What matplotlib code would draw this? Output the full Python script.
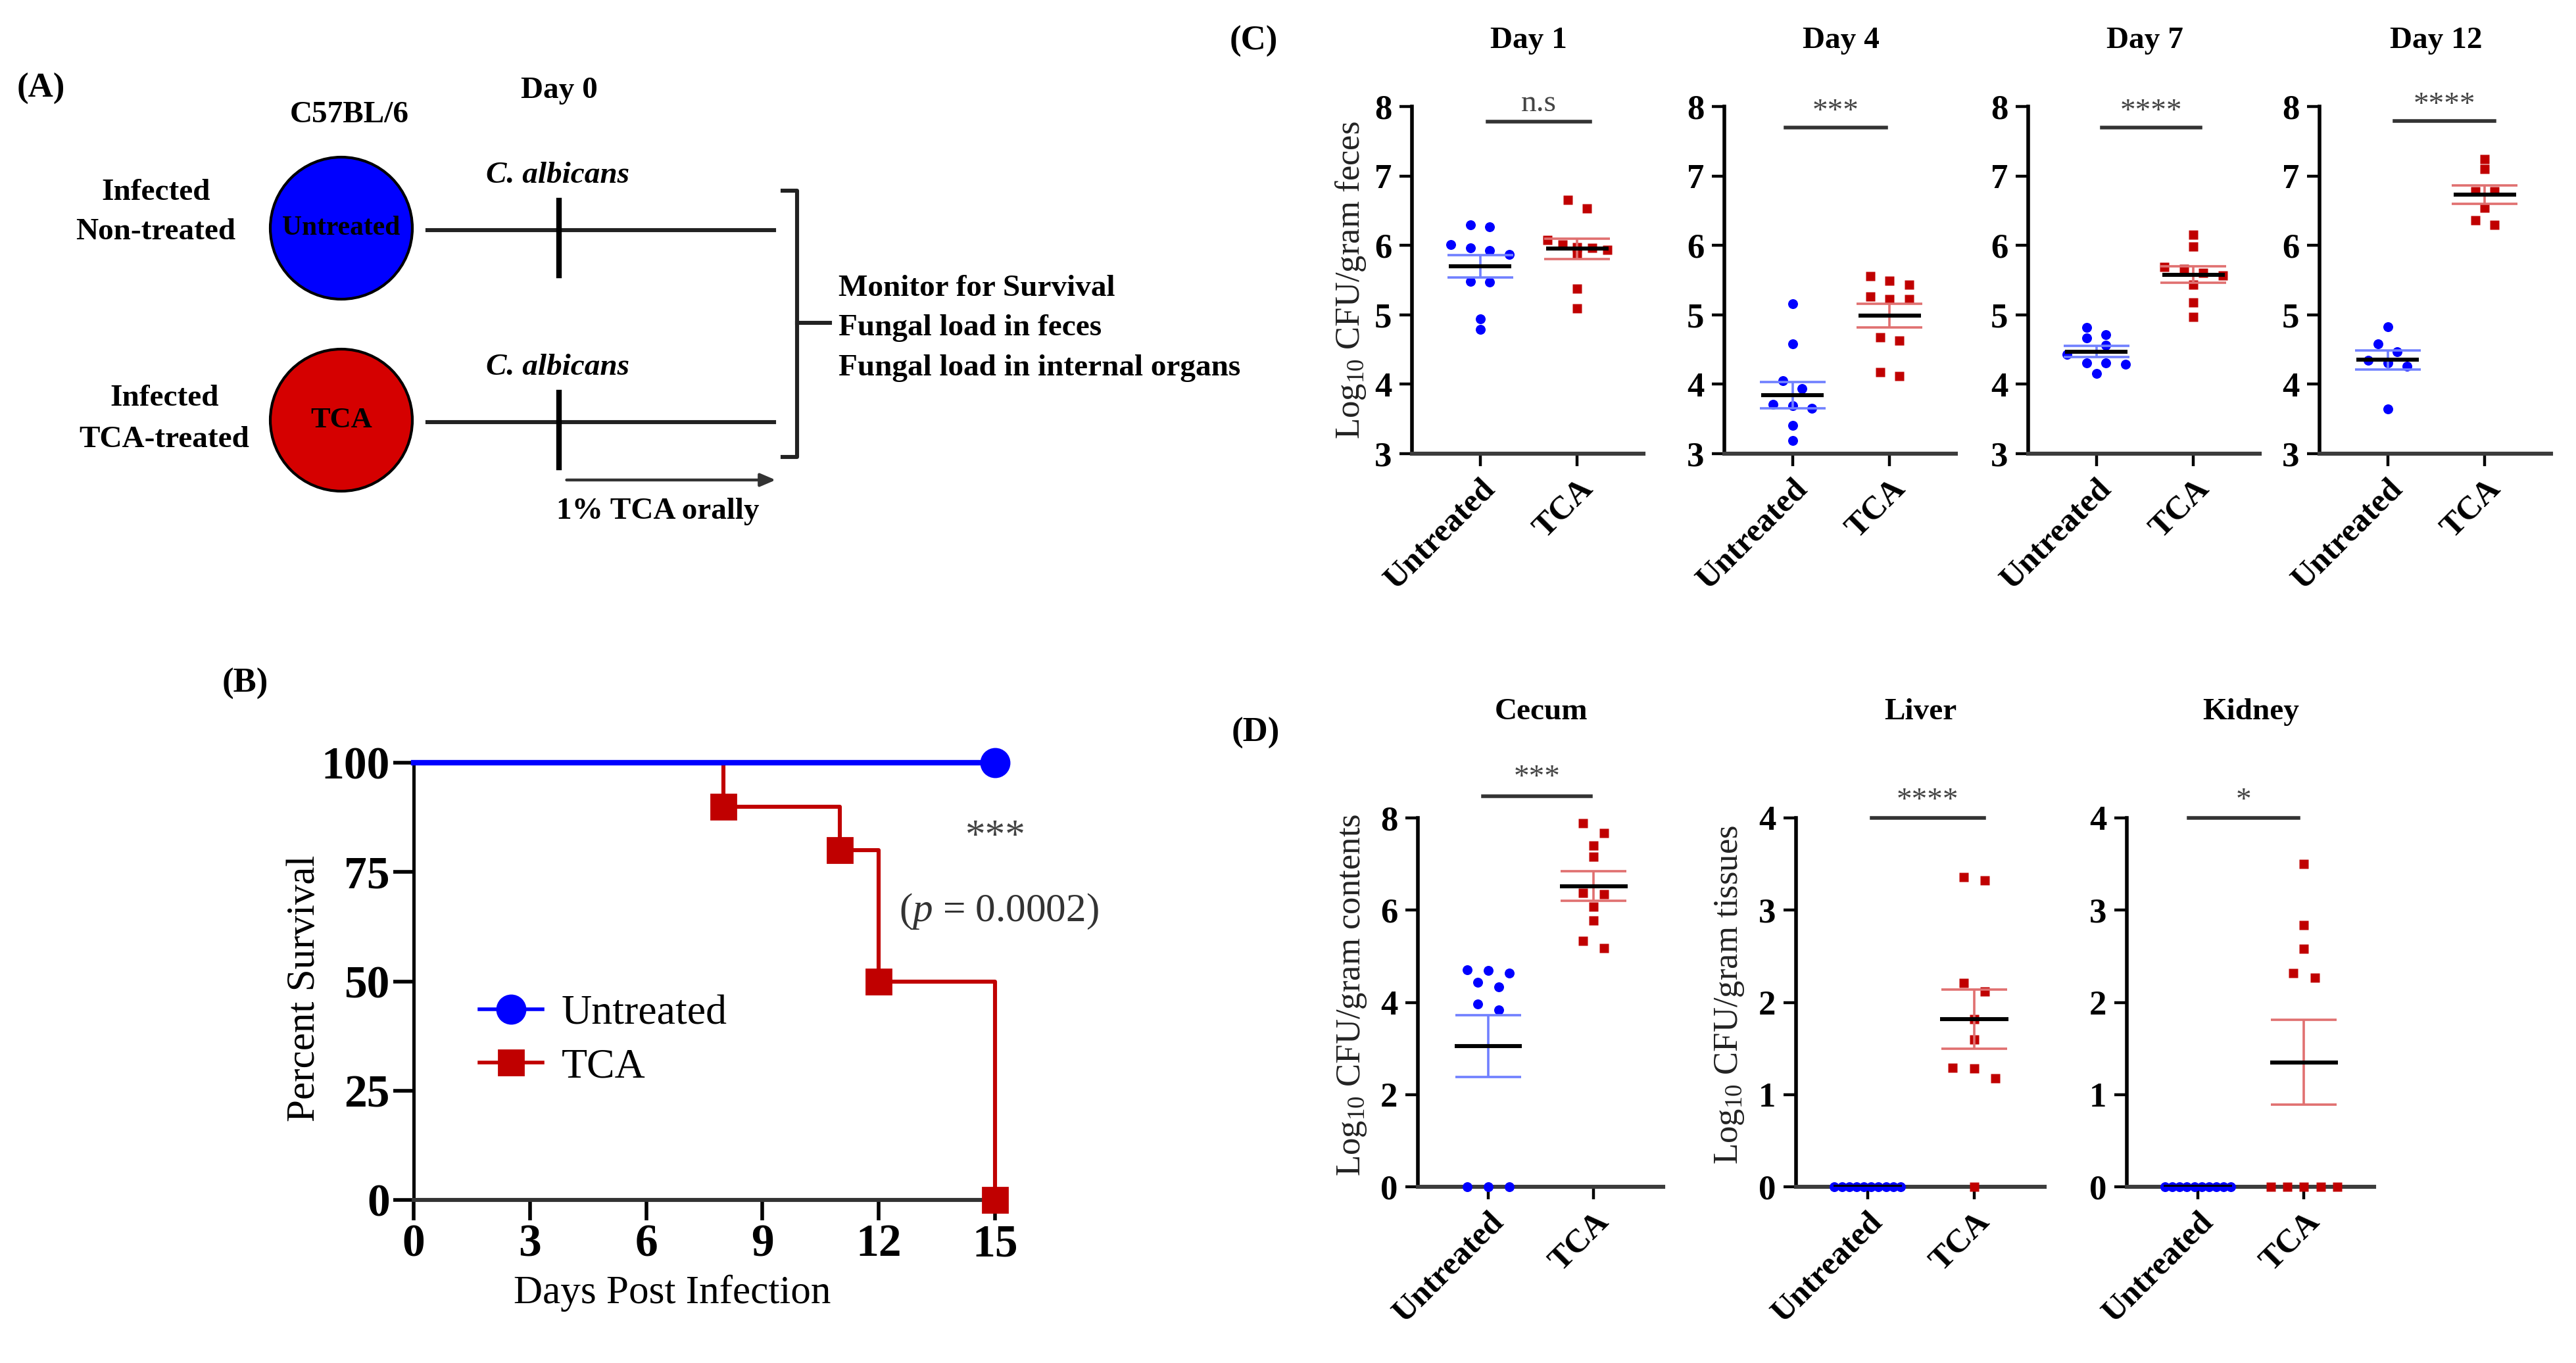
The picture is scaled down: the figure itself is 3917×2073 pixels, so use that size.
import numpy as np
import matplotlib
matplotlib.use('Agg')
import matplotlib.pyplot as plt
from matplotlib.patches import Circle
from matplotlib.lines import Line2D

plt.rcParams['font.family'] = ['Liberation Serif', 'DejaVu Serif']
plt.rcParams['mathtext.fontset'] = 'custom'
plt.rcParams['mathtext.rm'] = 'Liberation Serif'
plt.rcParams['mathtext.it'] = 'Liberation Serif:italic'
plt.rcParams['mathtext.bf'] = 'Liberation Serif:bold'

# ---- data ----
# (B) survival
days_untreated = [0, 15]
surv_untreated = [100, 100]
days_tca = [0, 8, 11, 12, 15]
surv_tca = [100, 90, 80, 50, 0]

groups = ['Untreated', 'TCA']

# (C) fungal load in feces
feces_days = ['Day 1', 'Day 4', 'Day 7', 'Day 12']
feces_untreated = [
    [6.27, 6.30, 5.87, 6.01, 5.93, 5.96, 5.48, 5.47, 4.94, 4.79],
    [5.16, 4.58, 4.05, 3.94, 3.69, 3.71, 3.65, 3.41, 3.19],
    [4.82, 4.67, 4.71, 4.56, 4.43, 4.31, 4.29, 4.31, 4.16],
    [4.83, 4.58, 4.47, 4.34, 4.31, 4.26, 3.64],
]
feces_tca = [
    [6.66, 6.53, 5.96, 6.01, 6.08, 5.97, 5.94, 5.87, 5.38, 5.09],
    [5.49, 5.43, 5.56, 5.23, 5.26, 5.23, 4.63, 4.68, 4.12, 4.17],
    [6.15, 5.98, 5.69, 5.66, 5.60, 5.57, 5.43, 5.18, 4.97],
    [7.24, 7.10, 6.78, 6.78, 6.54, 6.30, 6.36],
]
feces_mean_untreated = [5.70, 3.84, 4.47, 4.35]
feces_sem_untreated = [0.16, 0.19, 0.08, 0.14]
feces_mean_tca = [5.95, 4.99, 5.58, 6.73]
feces_sem_tca = [0.15, 0.17, 0.12, 0.13]
feces_sig = ['n.s', '***', '****', '****']

# (D) fungal load in organs
organs = ['Cecum', 'Liver', 'Kidney']
organ_ylabels = ['Log$_{10}$ CFU/gram contents', 'Log$_{10}$ CFU/gram tissues', None]
organ_untreated = [
    [4.71, 4.64, 4.69, 4.43, 4.33, 3.96, 3.84, 0, 0, 0],
    [0, 0, 0, 0, 0, 0, 0, 0, 0, 0],
    [0, 0, 0, 0, 0, 0, 0, 0, 0, 0],
]
organ_tca = [
    [7.88, 7.67, 7.40, 7.16, 6.38, 6.35, 6.07, 5.77, 5.34, 5.18],
    [3.32, 3.36, 2.21, 2.12, 1.82, 1.60, 1.29, 1.28, 1.18, 0],
    [3.50, 2.84, 2.58, 2.27, 2.32, 0, 0, 0, 0, 0],
]
organ_mean_untreated = [3.05, 0, 0]
organ_sem_untreated = [0.67, 0, 0]
organ_mean_tca = [6.52, 1.82, 1.35]
organ_sem_tca = [0.32, 0.32, 0.46]
organ_sig = ['***', '****', '*']

BLUE = '#0000ff'
RED = '#c00000'
LBLUE = '#7080ff'
LRED = '#e07070'

W, H = 3917, 2073
fig = plt.figure(figsize=(W / 200, H / 200), dpi=200)


def px_axes(x0, y0, x1, y1):
    return fig.add_axes([x0 / W, 1 - y1 / H, (x1 - x0) / W, (y1 - y0) / H])


def swarm(vals, thr, step=0.2, max_w=0.62):
    vals = np.asarray(vals, dtype=float)
    order = np.argsort(-vals, kind='stable')
    offs = np.zeros(len(vals))
    grp = []

    def place(g):
        n = len(g)
        s = step if n < 2 else min(step, max_w / (n - 1))
        for i, idx in enumerate(g):
            offs[idx] = (i - (n - 1) / 2) * s

    for idx in order:
        if grp and vals[grp[0]] - vals[idx] > thr:
            place(grp)
            grp = []
        grp.append(idx)
    place(grp)
    return offs


# ---- overlay for the scheme and panel letters (pixel coords) ----
ax0 = fig.add_axes([0, 0, 1, 1])
ax0.set_xlim(0, W)
ax0.set_ylim(H, 0)
ax0.axis('off')

for lab, (x, y) in zip(['(A)', '(B)', '(C)', '(D)'],
                       [(62, 135), (373, 1040), (1906, 63), (1909, 1115)]):
    ax0.text(x, y, lab, fontsize=19, fontweight='bold', ha='center', va='center')

bold = dict(fontsize=17, fontweight='bold', ha='center', va='center')
ax0.text(850, 138, 'Day 0', **bold)
ax0.text(531, 175, 'C57BL/6', **bold)
ax0.text(237, 293, 'Infected', **bold)
ax0.text(237, 353, 'Non-treated', **bold)
ax0.text(250, 606, 'Infected', **bold)
ax0.text(250, 669, 'TCA-treated', **bold)

for cy, col, lab in [(347, '#0000ff', 'Untreated'), (639, '#d50000', 'TCA')]:
    ax0.add_patch(Circle((519, cy), 108, facecolor=col, edgecolor='black', lw=1.5))
    ax0.text(519, cy, lab, fontsize=15 if lab == 'Untreated' else 16,
             fontweight='bold', ha='center', va='center')
    ax0.plot([650, 1177], [cy + 3, cy + 3], color='#222', lw=2.2)
    ax0.plot([850, 850], [cy - 42, cy + 72], color='black', lw=3)
    ax0.text(848, cy - 80, 'C. albicans', fontsize=17, fontweight='bold',
             fontstyle='italic', ha='center', va='center')

ax0.plot([1190, 1212, 1212, 1190], [290, 290, 695, 695], color='#222', lw=2.2)
ax0.plot([1212, 1262], [491, 491], color='#222', lw=2.2)
for y, t in [(439, 'Monitor for Survival'), (499, 'Fungal load in feces'),
             (560, 'Fungal load in internal organs')]:
    ax0.text(1275, y, t, fontsize=17, fontweight='bold', ha='left', va='center')
ax0.annotate('', xy=(1185, 730), xytext=(856, 730),
             arrowprops=dict(arrowstyle='-|>,head_length=0.7,head_width=0.3',
                             color='#333', lw=1.6))
ax0.text(1000, 778, '1% TCA orally', **bold)

# ---- (B) survival ----
axb = px_axes(629, 1160, 1513, 1825)
axb.patch.set_alpha(0)
axb.step(days_tca, surv_tca, where='post', color=RED, lw=2.2, zorder=3, clip_on=False)
axb.plot(days_tca[1:], surv_tca[1:], 's', color=RED, ms=14, zorder=4, clip_on=False)
axb.plot(days_untreated, surv_untreated, color=BLUE, lw=3, zorder=5, clip_on=False)
axb.plot(days_untreated[-1:], surv_untreated[-1:], 'o', color=BLUE, ms=15.5,
         zorder=6, clip_on=False)
axb.set_xlim(0, 15)
axb.set_ylim(0, 100)
axb.set_xticks([0, 3, 6, 9, 12, 15], labels=['0', '3', '6', '9', '12', '15'],
              fontsize=25, fontweight='bold')
axb.set_yticks([0, 25, 50, 75, 100], labels=['0', '25', '50', '75', '100'],
              fontsize=25, fontweight='bold')
axb.tick_params(axis='both', length=11, width=2, pad=2)
for s in ['top', 'right']:
    axb.spines[s].set_visible(False)
axb.spines['left'].set_linewidth(1.8)
axb.spines['bottom'].set_linewidth(2.2)
axb.spines['bottom'].set_color('#333333')
axb.text(-0.188, 0.484, 'Percent Survival', transform=axb.transAxes, rotation=90,
         fontsize=22, ha='center', va='center')
axb.text(0.445, -0.214, 'Days Post Infection', transform=axb.transAxes,
         fontsize=22, ha='center', va='center')
axb.text(15.0, 83, '***', fontsize=22, color='#444444', ha='center', va='center')
axb.text(15.1, 66, r'($\mathit{p}$ = 0.0002)', fontsize=22, color='#333333',
         ha='center', va='center')
handles = [Line2D([], [], color=BLUE, lw=2, marker='o', ms=15.5),
           Line2D([], [], color=RED, lw=2, marker='s', ms=14)]
axb.legend(handles, groups, loc='center left', bbox_to_anchor=(0.113, 0.365),
           frameon=False, fontsize=23, handlelength=1.5, handletextpad=0.45,
           labelspacing=0.35, borderpad=0, borderaxespad=0)


# ---- column scatter panels ----
def column_panel(ax, xlim, ylim, yticks, un, tc, mu, su, mt, st, thr):
    ax.patch.set_alpha(0)
    ax.set_xlim(*xlim)
    ax.set_ylim(*ylim)
    for s in ['top', 'right']:
        ax.spines[s].set_visible(False)
    ax.spines['left'].set_linewidth(2)
    ax.spines['bottom'].set_linewidth(2.2)
    ax.spines['bottom'].set_color('#3c3c3c')
    ax.set_yticks(yticks, labels=[str(v) for v in yticks], fontsize=19, fontweight='bold')
    ax.set_xticks([0, 1])
    ax.set_xticklabels(groups, rotation=45, ha='right', va='top', rotation_mode='anchor',
                       fontsize=18, fontweight='bold')
    ax.tick_params(axis='both', length=7, width=1.6, pad=4)
    ax.plot(0 + swarm(un, thr), un, 'o', color=BLUE, ms=5.4, mec='none',
            zorder=3, clip_on=False)
    ax.plot(1 + swarm(tc, thr), tc, 's', color=RED, ms=4.8, mec='none',
            zorder=3, clip_on=False)
    for x, m, s, c in [(0, mu, su, LBLUE), (1, mt, st, LRED)]:
        if s > 0:
            ax.errorbar([x], [m], yerr=[s], fmt='none', ecolor=c, elinewidth=1.3,
                        capsize=18, capthick=1.3, zorder=4)
        ax.hlines(m, x - 0.32, x + 0.32, color='black', lw=2.2, zorder=5)


def sig_bar(ax, x1, x2, y, ty, lab):
    ax.plot([x1, x2], [y, y], color='#333333', lw=2, clip_on=False)
    ax.text((x1 + x2) / 2, ty, lab, fontsize=17, color='#444444', ha='center',
            va='bottom', clip_on=False)


# (C)
c_lefts = [2147, 2622, 3084, 3527]
c_bars = [(0.08, 1.13, 7.78, 7.84), (-0.07, 0.96, 7.70, 7.72),
          (0.06, 1.07, 7.70, 7.72), (0.07, 1.10, 7.79, 7.81)]
for i, left in enumerate(c_lefts):
    ax = px_axes(left, 162, left + 352, 690)
    column_panel(ax, (-0.70, 1.68), (3, 8), [3, 4, 5, 6, 7, 8],
                 feces_untreated[i], feces_tca[i],
                 feces_mean_untreated[i], feces_sem_untreated[i],
                 feces_mean_tca[i], feces_sem_tca[i], 0.14)
    x1, x2, y, ty = c_bars[i]
    sig_bar(ax, x1, x2, y, ty, feces_sig[i])
    ax.text(0.5, 8.95, feces_days[i], fontsize=17, fontweight='bold',
            ha='center', va='center', clip_on=False)
    if i == 0:
        ax.set_ylabel('Log$_{10}$ CFU/gram feces', fontsize=19, color='#222222')
        ax.yaxis.set_label_coords(-0.19, 0.5)

# (D)
d_spans = [(2156, 2529), (2731, 3109), (3234, 3610)]
d_bars = [(-0.05, 0.97, 8.47, 8.55), (0.04, 1.09, 4.0, 4.03), (-0.09, 0.95, 4.0, 4.03)]
d_ylims = [(0, 8), (0, 4), (0, 4)]
d_ticks = [[0, 2, 4, 6, 8], [0, 1, 2, 3, 4], [0, 1, 2, 3, 4]]
d_title_y = [10.3, 5.15, 5.15]
for i, (l, r) in enumerate(d_spans):
    ax = px_axes(l, 1244, r, 1805)
    yr = d_ylims[i][1] - d_ylims[i][0]
    column_panel(ax, (-0.67, 1.66), d_ylims[i], d_ticks[i],
                 organ_untreated[i], organ_tca[i],
                 organ_mean_untreated[i], organ_sem_untreated[i],
                 organ_mean_tca[i], organ_sem_tca[i], 0.028 * yr)
    x1, x2, y, ty = d_bars[i]
    sig_bar(ax, x1, x2, y, ty, organ_sig[i])
    ax.text(0.5, d_title_y[i], organs[i], fontsize=17, fontweight='bold',
            ha='center', va='center', clip_on=False)
    if organ_ylabels[i]:
        ax.set_ylabel(organ_ylabels[i], fontsize=19, color='#222222')
        ax.yaxis.set_label_coords(-0.20, 0.52)

fig.savefig('out.png', dpi=200)
